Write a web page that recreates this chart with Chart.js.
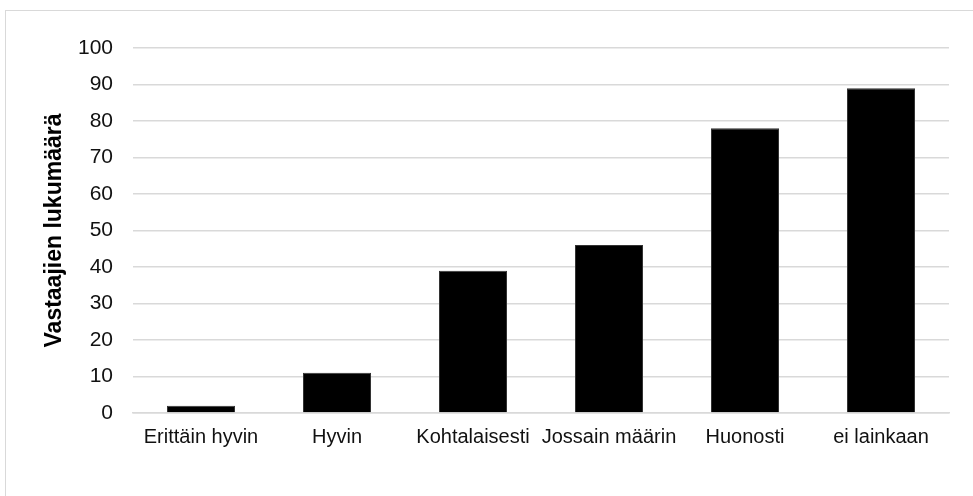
<!DOCTYPE html>
<html>
<head>
<meta charset="utf-8">
<script src="https://cdn.jsdelivr.net/npm/chart.js@4"></script>
<style>
    html, body { margin: 0; padding: 0; background: #fff; overflow: hidden; }
    #frame { position: absolute; left: 5px; top: 10px; width: 990px; height: 500px; border: 1.5px solid #d9d9d9; }
    #wrap { position: absolute; left: 0; top: 0; width: 973px; height: 496px; }
</style>
</head>
<body>
<div id="frame"></div>
<div id="wrap"><canvas id="chart"></canvas></div>
<script>
// --- Data ---
const categories = ['Erittäin hyvin', 'Hyvin', 'Kohtalaisesti', 'Jossain määrin', 'Huonosti', 'ei lainkaan'];
const counts = [2, 11, 39, 46, 78, 89];
const yTitle = 'Vastaajien lukumäärä';
const yMin = 0;
const yMax = 100;
const yStep = 10;

const FONT = "'Liberation Sans', Arial, sans-serif";

document.addEventListener('DOMContentLoaded', () => {
    const ctx = document.getElementById('chart').getContext('2d');

    new Chart(ctx, {
        type: 'bar',
        data: {
            labels: categories,
            datasets: [{
                label: yTitle,
                data: counts,
                backgroundColor: '#000000',
                borderColor: '#333333',
                borderWidth: 1,
                barPercentage: 0.5,
                categoryPercentage: 1
            }]
        },
        options: {
            responsive: true,
            maintainAspectRatio: false,
            animation: false,
            layout: { padding: { left: 41, right: 24, top: 48, bottom: 35 } },
            plugins: {
                legend: { display: false },
                tooltip: { enabled: false }
            },
            scales: {
                x: {
                    grid: { display: false, drawTicks: false },
                    border: { display: true, color: '#d9d9d9', width: 1.5 },
                    ticks: { color: '#111', font: { family: FONT, size: 20 }, padding: 12, maxRotation: 0, autoSkip: false }
                },
                y: {
                    min: yMin,
                    max: yMax,
                    grid: { color: '#d9d9d9', lineWidth: 1.5, drawTicks: false },
                    border: { display: false },
                    ticks: { stepSize: yStep, color: '#111', font: { family: FONT, size: 21 }, padding: 20 },
                    title: {
                        display: true,
                        text: yTitle,
                        color: '#000',
                        font: { family: FONT, size: 23, weight: 'bold' },
                        padding: 0
                    },
                    afterFit: (scale) => { scale.width = 133 - 41; }
                }
            }
        }
    });
});
</script>
</body>
</html>
